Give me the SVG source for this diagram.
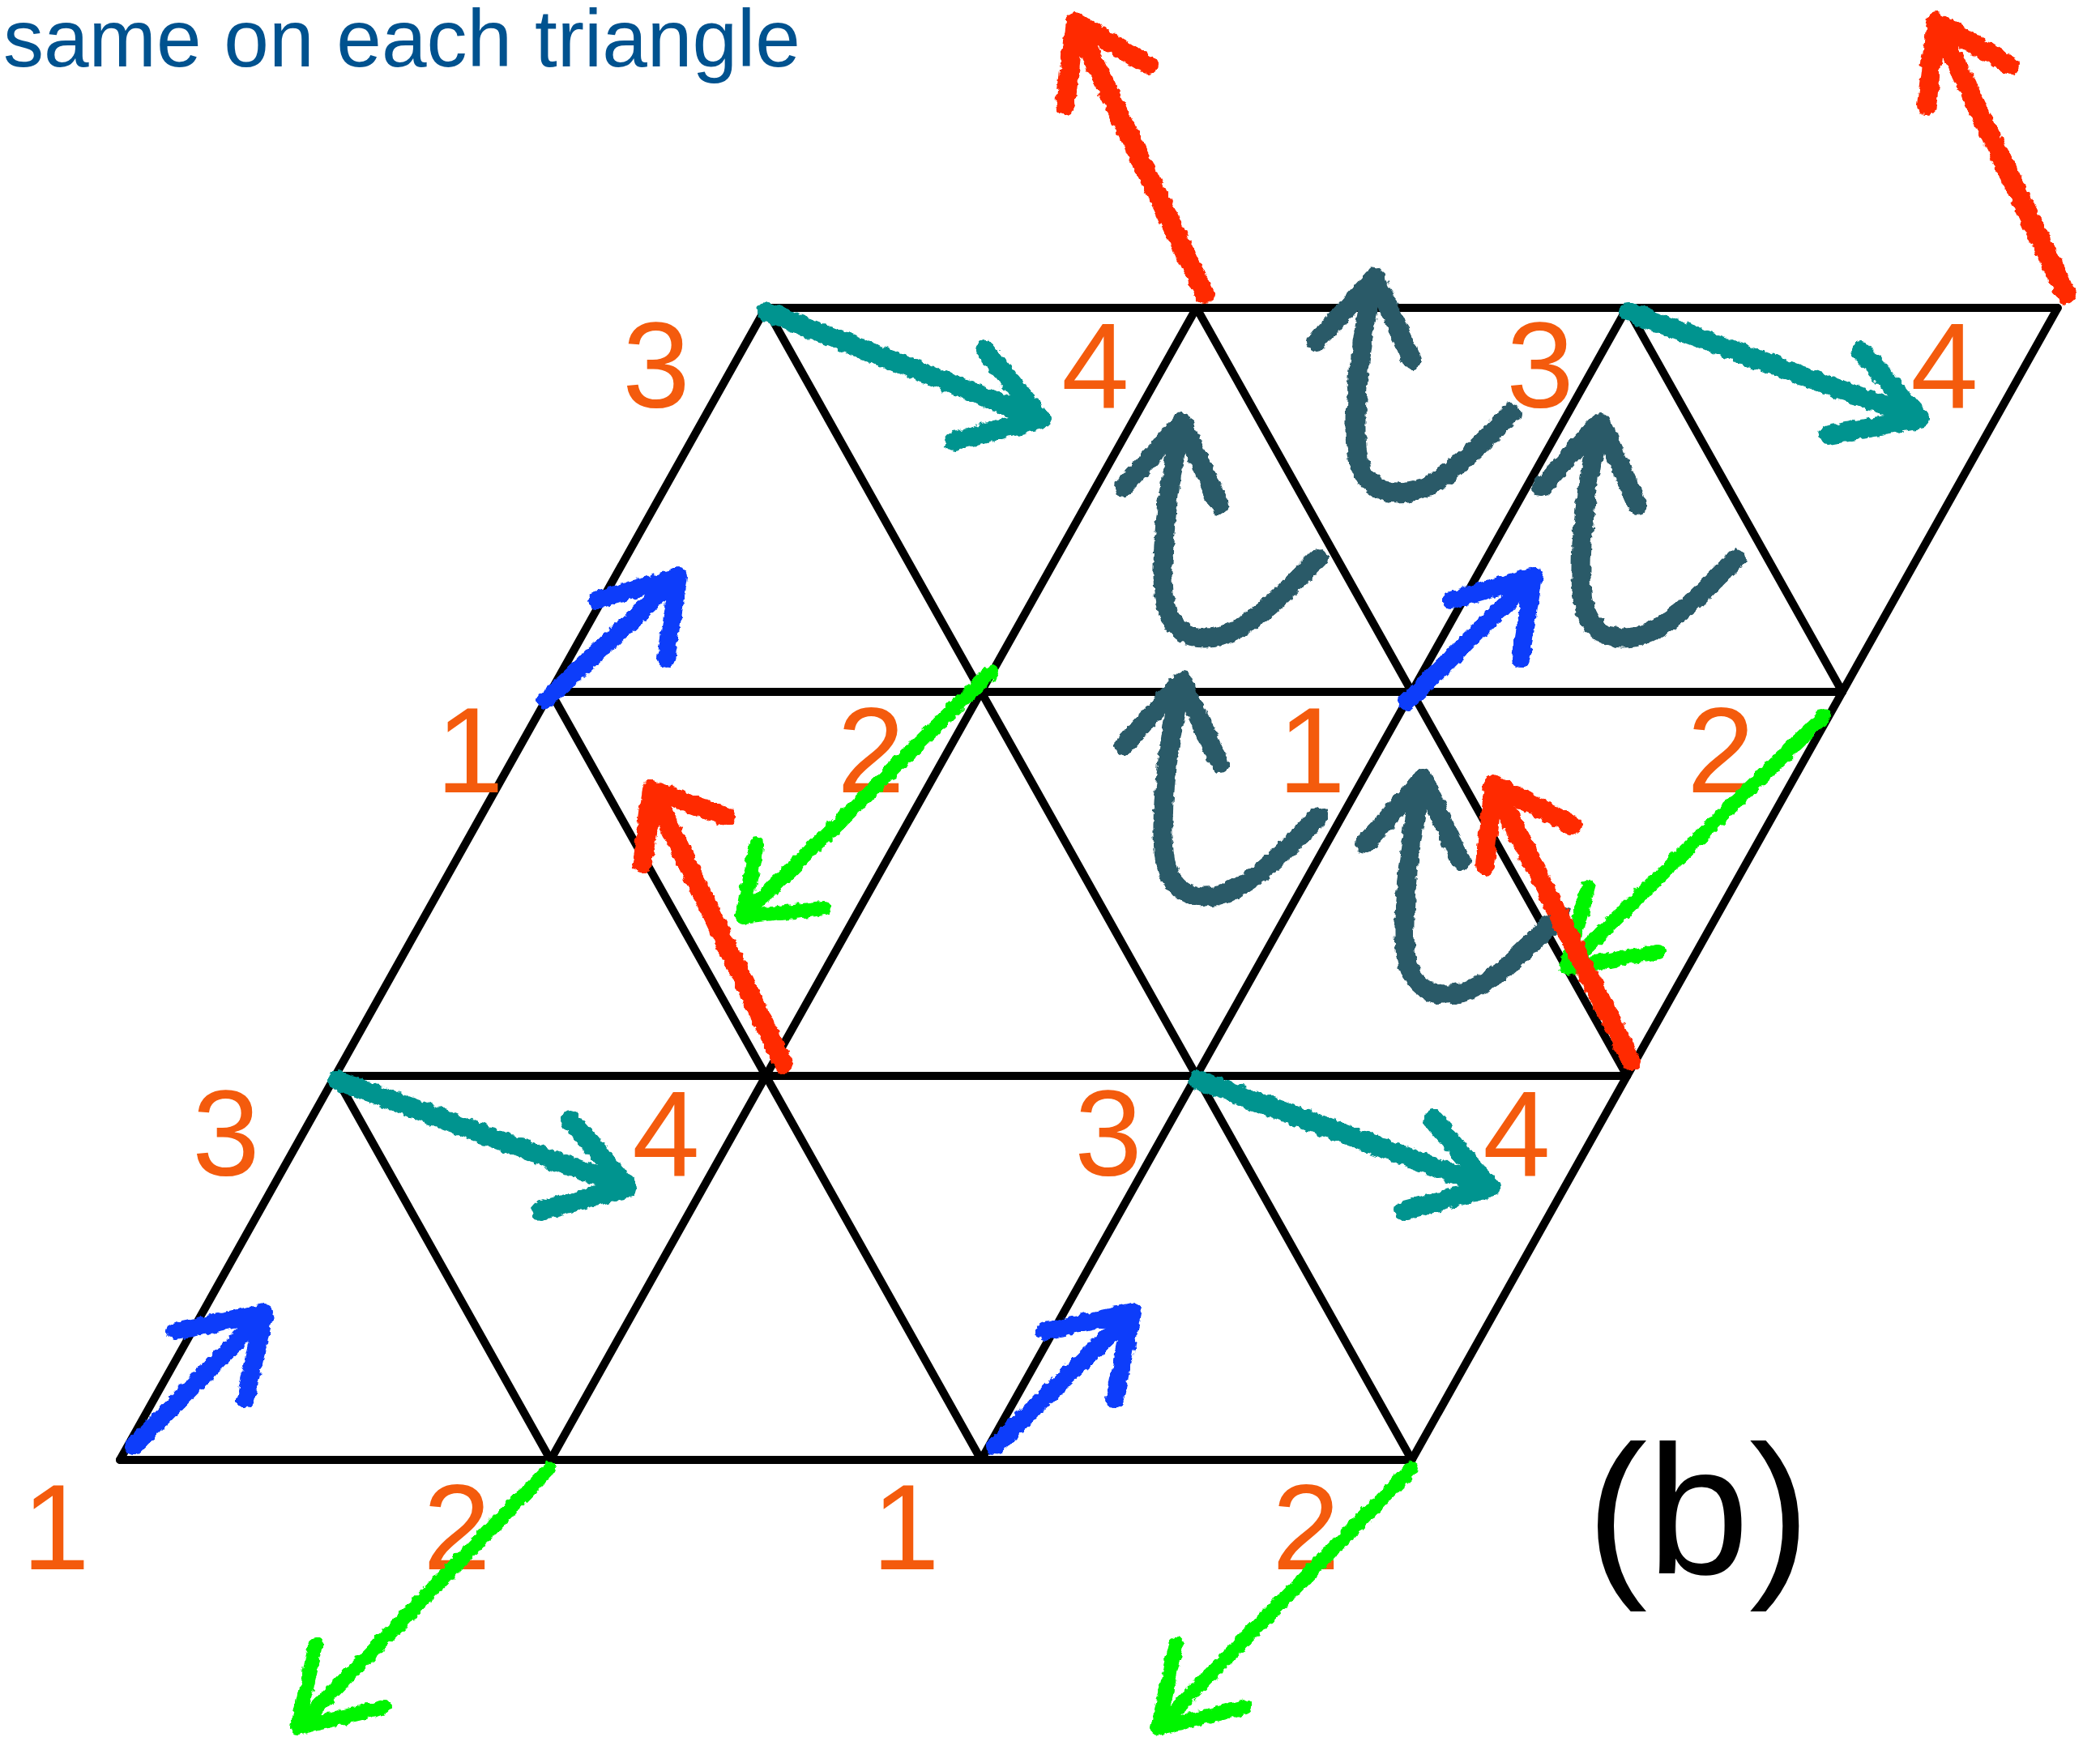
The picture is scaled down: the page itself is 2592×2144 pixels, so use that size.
<svg xmlns="http://www.w3.org/2000/svg" xmlns:xlink="http://www.w3.org/1999/xlink" width="2592" height="2144" viewBox="0 0 2592 2144">
<style>
.grid{fill:none;stroke:#000;stroke-width:10;stroke-linecap:round;stroke-linejoin:round}
.lbl{font-family:"Liberation Sans",Arial,sans-serif;font-size:150px;fill:#F45B0D;text-anchor:middle}
.title{font-family:"Liberation Sans",Arial,sans-serif;font-size:100px;fill:#00528F}
.tag{font-family:"Liberation Sans",Arial,sans-serif;font-size:226px;fill:#000}
.ar{fill:none;stroke-linecap:round;stroke-linejoin:round;stroke-width:24}
.teal{stroke:#00948F}
.slate{stroke:#2A5A68}
.blue{stroke:#0A3CFA;stroke-width:22}
.green{stroke:#00F500;stroke-width:18}
.red{stroke:#FF2A00}
</style>
<defs>
<filter id="crayon" filterUnits="userSpaceOnUse" x="0" y="0" width="2592" height="2144">
<feTurbulence type="fractalNoise" baseFrequency="0.12" numOctaves="2" seed="4" result="n"/>
<feDisplacementMap in="SourceGraphic" in2="n" scale="8" xChannelSelector="R" yChannelSelector="G"/>
</filter>
<path id="rot" d="M0,0 C-15,60 -28,160 -22,215 C-16,262 15,272 48,264 C90,252 128,208 168,168 M-72,80 L0,0 L46,102"/>
</defs>
<rect width="2592" height="2144" fill="#fff"/>
<text class="title" x="4" y="82">same on each triangle</text>
<g id="lattice" class="grid">
<path d="M148,1802 H1742.5 M413.75,1328 H2008.25 M679.5,854 H2274 M945.25,380 H2539.75"/>
<path d="M148,1802 L945.25,380 M679.5,1802 L1476.75,380 M1211,1802 L2008.25,380 M1742.5,1802 L2539.75,380"/>
<path d="M413.75,1328 L679.5,1802 M679.5,854 L1211,1802 M945.25,380 L1742.5,1802 M1476.75,380 L2008.25,1328 M2008.25,380 L2274,854"/>
</g>
<g id="labels">
<text class="lbl" x="810" y="503">3</text>
<text class="lbl" x="1352" y="503">4</text>
<text class="lbl" x="1901" y="503">3</text>
<text class="lbl" x="2400" y="503">4</text>
<text class="lbl" x="580" y="978">1</text>
<text class="lbl" x="1075" y="978">2</text>
<text class="lbl" x="1619" y="978">1</text>
<text class="lbl" x="2124" y="978">2</text>
<text class="lbl" x="279" y="1451">3</text>
<text class="lbl" x="822" y="1451">4</text>
<text class="lbl" x="1368" y="1451">3</text>
<text class="lbl" x="1872" y="1451">4</text>
<text class="lbl" x="69" y="1937">1</text>
<text class="lbl" x="564" y="1937">2</text>
<text class="lbl" x="1118" y="1937">1</text>
<text class="lbl" x="1612" y="1937">2</text>
</g>
<text id="tag" class="tag" x="1958" y="1942">(b)</text>
<g id="arrows" filter="url(#crayon)">
<g id="teal-arrows" class="ar teal">
<path d="M947,385 L1285,517 M1216,432 L1285,517 L1178,545"/>
<path d="M2010,385 L2370,517 M2297,433 L2370,517 L2257,537"/>
<path d="M416,1333 L775,1466 M704,1382 L775,1466 L668,1494"/>
<path d="M1479,1333 L1840,1466 M1769,1382 L1840,1466 L1733,1494"/>
</g>
<g id="rotation-arrows" class="ar slate">
<use xlink:href="#rot" x="1697" y="342"/>
<use xlink:href="#rot" x="1459" y="521"/>
<use xlink:href="#rot" x="1975" y="521"/>
<use xlink:href="#rot" x="1459" y="840"/>
<use xlink:href="#rot" x="1757" y="961"/>
</g>
<g id="blue-arrows" class="ar blue">
<path d="M165,1785 L327,1620 M217,1643 L327,1620 L303,1727"/>
<path d="M1228,1785 L1398,1620 M1290,1643 L1398,1620 L1376,1727"/>
<path d="M674,864 L838,711 M736,741 L838,711 L822,813"/>
<path d="M1737,866 L1893,711 M1791,741 L1893,711 L1877,813"/>
</g>
<g id="green-arrows" class="ar green">
<path d="M678,1813 L367,2133 M390,2030 L367,2133 L475,2107"/>
<path d="M1742,1813 L1429,2133 M1452,2030 L1429,2133 L1537,2107"/>
<path d="M1223,830 L917,1132 M934,1041 L917,1132 L1017,1121"/>
<path d="M2251,884 L1933,1194 M1960,1095 L1933,1194 L2047,1175"/>
</g>
<g id="red-arrows" class="ar red">
<path d="M1487,363 L1327,27 M1315,130 L1327,27 L1417,80"/>
<path d="M2550,363 L2390,27 M2378,130 L2390,27 L2480,80"/>
<path d="M967,1314 L805,975 M793,1066 L805,975 L896,1008"/>
<path d="M2013,1309 L1843,968 M1833,1068 L1843,968 L1940,1018"/>
</g>
</g>
</svg>
